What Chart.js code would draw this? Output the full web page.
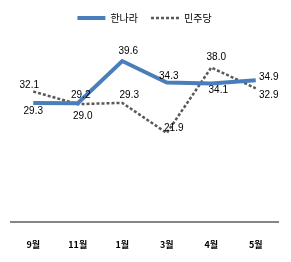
<!DOCTYPE html>
<html>
<head>
<meta charset="utf-8">
<script src="https://cdn.jsdelivr.net/npm/chart.js@4"></script>
<style>
  html, body { margin: 0; padding: 0; background: #fff; }
  #wrap { width: 291px; height: 262px; }
</style>
</head>
<body>
<div id="wrap"><canvas id="chart"></canvas></div>
<script>
const months = ["9월", "11월", "1월", "3월", "4월", "5월"];
const hannara = [29.3, 29.2, 39.6, 34.3, 34.1, 34.9];
const minju = [32.1, 29.0, 29.3, 21.9, 38.0, 32.9];

// label offsets (dx, dy) from each point, like in the original
const hannaraOffsets = [[0, 8], [3, -8], [6, -10], [2, -6], [7, 7], [13, -3]];
const minjuOffsets = [[-4, -6], [5, 12], [7, -8], [7, -5], [5, -10], [13, 7]];

const pointLabels = {
  id: "pointLabels",
  afterDatasetsDraw(chart) {
    const ctx = chart.ctx;
    ctx.save();
    ctx.font = "10px 'Liberation Sans', sans-serif";
    ctx.fillStyle = "#000";
    ctx.textAlign = "center";
    ctx.textBaseline = "middle";
    chart.data.datasets.forEach((ds, i) => {
      const offs = i === 0 ? hannaraOffsets : minjuOffsets;
      chart.getDatasetMeta(i).data.forEach((pt, j) => {
        ctx.fillText(ds.data[j].toFixed(1), pt.x + offs[j][0], pt.y + offs[j][1]);
      });
    });
    ctx.restore();
  }
};

new Chart(document.getElementById("chart"), {
  type: "line",
  data: {
    labels: months,
    datasets: [
      {
        label: "한나라",
        data: hannara,
        borderColor: "#4a7ebb",
        backgroundColor: "#4a7ebb",
        borderWidth: 4,
        pointRadius: 0,
        tension: 0,
      },
      {
        label: "민주당",
        data: minju,
        borderColor: "#595959",
        backgroundColor: "#595959",
        borderWidth: 2.5,
        borderDash: [3, 2],
        pointRadius: 0,
        tension: 0,
      },
    ],
  },
  options: {
    responsive: true,
    maintainAspectRatio: false,
    animation: false,
    layout: { padding: { left: 11, right: 13, top: 0, bottom: 0 } },
    plugins: {
      tooltip: { enabled: false },
      legend: {
        position: "top",
        labels: {
          usePointStyle: true,
          pointStyleWidth: 28,
          padding: 13,
          color: "#000",
          font: { size: 10, family: "'Noto Sans CJK KR', sans-serif" },
          generateLabels(chart) {
            return chart.data.datasets.map((ds, i) => ({
              text: ds.label,
              strokeStyle: ds.borderColor,
              fillStyle: ds.borderColor,
              lineWidth: ds.borderWidth,
              lineDash: ds.borderDash || [],
              pointStyle: "line",
              datasetIndex: i,
              fontColor: "#000",
            }));
          },
        },
      },
    },
    scales: {
      x: {
        offset: true,
        grid: { display: false },
        border: { display: true, color: "#868686", width: 2 },
        ticks: {
          padding: 9,
          color: "#000",
          font: { size: 9, weight: "bold", family: "'Noto Sans CJK KR', sans-serif" },
        },
        afterFit(scale) { scale.height = 40; },
      },
      y: {
        display: false,
        min: 0,
        max: 46.5,
      },
    },
  },
  plugins: [pointLabels],
});
</script>
</body>
</html>
